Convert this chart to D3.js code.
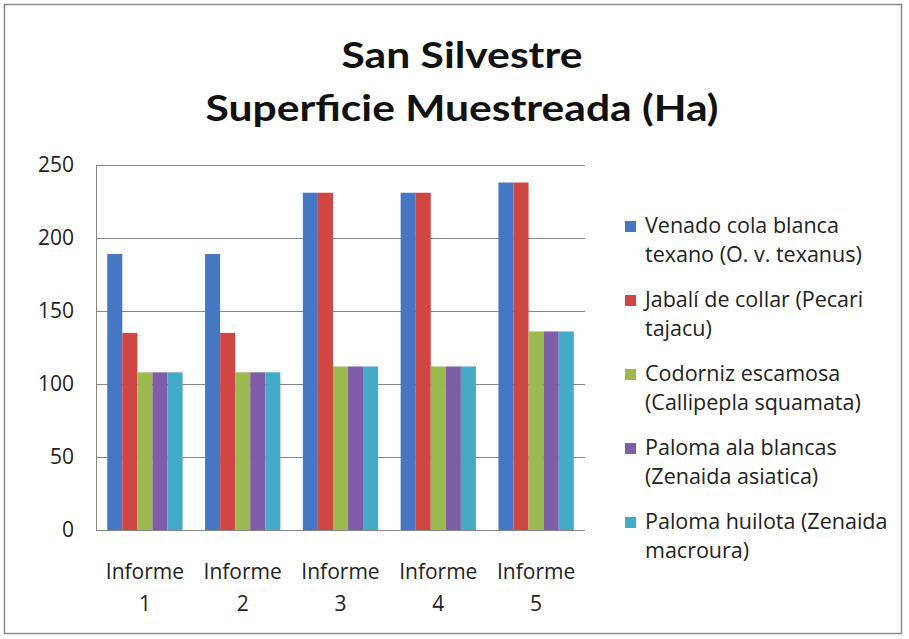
<!DOCTYPE html>
<html><head><meta charset="utf-8">
<script src="https://cdn.jsdelivr.net/npm/d3@7/dist/d3.min.js"></script>
<style>html,body{margin:0;padding:0;background:#fff;}svg{display:block;}</style>
</head><body>
<script>
const categories = ["Informe 1","Informe 2","Informe 3","Informe 4","Informe 5"];
const seriesNames = [
  "Venado cola blanca texano (O. v. texanus)",
  "Jabalí de collar (Pecari tajacu)",
  "Codorniz escamosa (Callipepla squamata)",
  "Paloma ala blancas (Zenaida asiatica)",
  "Paloma huilota (Zenaida macroura)"
];
const venado   = [189, 189, 231, 231, 238];
const jabali   = [135, 135, 231, 231, 238];
const codorniz = [108, 108, 112, 112, 136];
const palomaAla = [108, 108, 112, 112, 136];
const huilota  = [108, 108, 112, 112, 136];
const yTicks = [0, 50, 100, 150, 200, 250];
const legendLines = [
  ["Venado cola blanca","texano (O. v. texanus)"],
  ["Jabalí de collar (Pecari","tajacu)"],
  ["Codorniz escamosa","(Callipepla squamata)"],
  ["Paloma ala blancas","(Zenaida asiatica)"],
  ["Paloma huilota (Zenaida","macroura)"]
];
const colors = ["#4677c2","#cf4643","#9bbb50","#7e5ea6","#43aac8"];
const series = [venado, jabali, codorniz, palomaAla, huilota];

const W = 909, H = 639;
const svg = d3.select("body").append("svg").attr("width", W).attr("height", H);
svg.append("rect").attr("x",4.5).attr("y",4.5).attr("width",897).attr("height",629)
  .attr("fill","#fff").attr("stroke","#8a8a8a").attr("stroke-width",1.5);

const plot = {left:96, right:585, top:165, bottom:530};
const x0 = d3.scaleBand().domain(categories).range([plot.left, plot.right]).paddingInner(0.23).paddingOuter(0.115);
const x1 = d3.scaleBand().domain(d3.range(series.length)).range([0, x0.bandwidth()]);
const y = d3.scaleLinear().domain([0,250]).range([plot.bottom, plot.top]);

// gridlines
svg.append("g").selectAll("line").data(yTicks).join("line")
  .attr("x1", plot.left).attr("x2", plot.right)
  .attr("y1", d=>Math.round(y(d))+0.5).attr("y2", d=>Math.round(y(d))+0.5)
  .attr("stroke","#868686").attr("stroke-width",1);
svg.append("line").attr("x1",plot.left+0.5).attr("x2",plot.left+0.5)
  .attr("y1",plot.top).attr("y2",plot.bottom).attr("stroke","#868686");

// y axis labels
const yAxis = d3.axisLeft(y).tickValues(yTicks).tickSize(0).tickPadding(22);
const ya = svg.append("g").attr("transform",`translate(${plot.left},0)`).call(yAxis);
ya.select(".domain").remove();
ya.selectAll("text").attr("font-family","Open Sans, sans-serif").attr("font-size",21).attr("fill","#222");

// bars
const g = svg.append("g");
categories.forEach((c, ci) => {
  series.forEach((s, si) => {
    g.append("rect")
      .attr("x", x0(c) + x1(si))
      .attr("y", y(s[ci]))
      .attr("width", x1.bandwidth())
      .attr("height", y(0) - y(s[ci]))
      .attr("fill", colors[si]);
  });
});

// x labels
const xl = svg.append("g");
categories.forEach(c => {
  const parts = c.split(" ");
  const cx = x0(c) + x0.bandwidth()/2;
  const t = xl.append("text").attr("x", cx).attr("y", 579)
    .attr("text-anchor","middle").attr("font-family","Open Sans, sans-serif").attr("font-size",21).attr("fill","#222");
  t.append("tspan").attr("x", cx).text(parts[0]);
  t.append("tspan").attr("x", cx).attr("dy",32).text(parts[1]);
});

// title
svg.append("text").attr("x",462).attr("y",68).attr("text-anchor","middle")
  .attr("font-family","Lato, sans-serif").attr("font-weight","bold").attr("font-size",36).attr("fill","#111")
  .attr("textLength",241).attr("lengthAdjust","spacingAndGlyphs").text("San Silvestre");
svg.append("text").attr("x",462).attr("y",121).attr("text-anchor","middle")
  .attr("font-family","Lato, sans-serif").attr("font-weight","bold").attr("font-size",36).attr("fill","#111")
  .attr("textLength",513).attr("lengthAdjust","spacingAndGlyphs").text("Superficie Muestreada (Ha)");

// legend
const lg = svg.append("g");
legendLines.forEach((lines, i) => {
  const by = 233 + i*74;
  lg.append("rect").attr("x",625).attr("y",by-12).attr("width",11).attr("height",11).attr("fill",colors[i]);
  const t = lg.append("text").attr("font-family","Open Sans, sans-serif").attr("font-size",21.5).attr("fill","#222");
  lines.forEach((ln, j) => t.append("tspan").attr("x",645).attr("y", by + j*28.5).text(ln));
});
</script>
</body></html>
